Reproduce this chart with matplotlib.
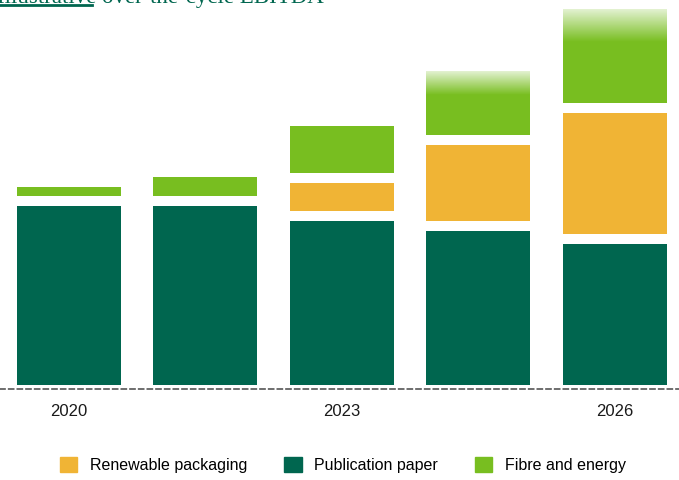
import numpy as np
import matplotlib.pyplot as plt
from matplotlib.patches import Patch
from matplotlib.lines import Line2D

plt.rcParams['font.family'] = ['Liberation Sans', 'DejaVu Sans']

# EBITDA build-up per year (illustrative units)
years = ["2020", "2021", "2023", "2024", "2026"]
tick_years = ["2020", "", "2023", "", "2026"]
publication = [179, 179, 164, 154, 141]
packaging = [0, 0, 28, 76, 121]
fibre = [9, 19, 47, 64, 94]
# bars whose top fades out (uncertain upside) and fade depth
fade = [0, 0, 0, 24, 33]

c_pub = "#00664f"
c_pack = "#f0b435"
c_fibre = "#78be20"
gap = 10
width = 0.762

fig = plt.figure(figsize=(6.79, 4.8), dpi=100)
ax = fig.add_axes([0, 91 / 480, 1, 389 / 480])

x = np.arange(len(years))
for i in x:
    base = 0
    ax.bar(i, publication[i], width, bottom=base, color=c_pub, linewidth=0)
    base += publication[i] + gap
    if packaging[i] > 0:
        ax.bar(i, packaging[i], width, bottom=base, color=c_pack, linewidth=0)
        base += packaging[i] + gap
    ax.bar(i, fibre[i], width, bottom=base, color=c_fibre, linewidth=0)
    top = base + fibre[i]
    if fade[i] > 0:
        # white overlay fading from mostly opaque at the top to clear
        grad = np.ones((128, 2, 4))
        grad[:, :, 3] = np.linspace(0.8, 0.0, 128)[:, None]
        ax.imshow(grad, extent=[i - width / 2, i + width / 2, top - fade[i], top],
                  aspect='auto', origin='upper', zorder=3, interpolation='bilinear')

ax.set_xlim(-0.505, 4.469)
ax.set_ylim(-4, 385)
ax.set_xticks(x)
ax.set_xticklabels(tick_years, fontsize=12, color="#1a1a1a")
ax.tick_params(axis='x', length=0, pad=11)
ax.set_yticks([])
for s in ["top", "left", "right"]:
    ax.spines[s].set_visible(False)
ax.spines["bottom"].set_linestyle((0, (3, 2.2)))
ax.spines["bottom"].set_color("#555555")
ax.spines["bottom"].set_linewidth(1.2)

# heading, mostly above the visible area
fig.text(-0.004, 1 - 3 / 480, "Illustrative over-the-cycle EBITDA", fontsize=16.5,
         family=['Liberation Serif', 'DejaVu Serif'], color=c_pub, va='baseline')
fig.add_artist(Line2D([0, 92 / 679], [1 - 5 / 480] * 2, color=c_pub, lw=2))

handles = [Patch(color=c_pack, label="Renewable packaging"),
           Patch(color=c_pub, label="Publication paper"),
           Patch(color=c_fibre, label="Fibre and energy")]
fig.legend(handles=handles, loc='center', bbox_to_anchor=(0.505, 15 / 480), ncol=3,
           frameon=False, fontsize=11.5, handlelength=1.1, handleheight=1.1,
           handletextpad=0.8, columnspacing=2.3)

fig.savefig("out.png", dpi=100)
